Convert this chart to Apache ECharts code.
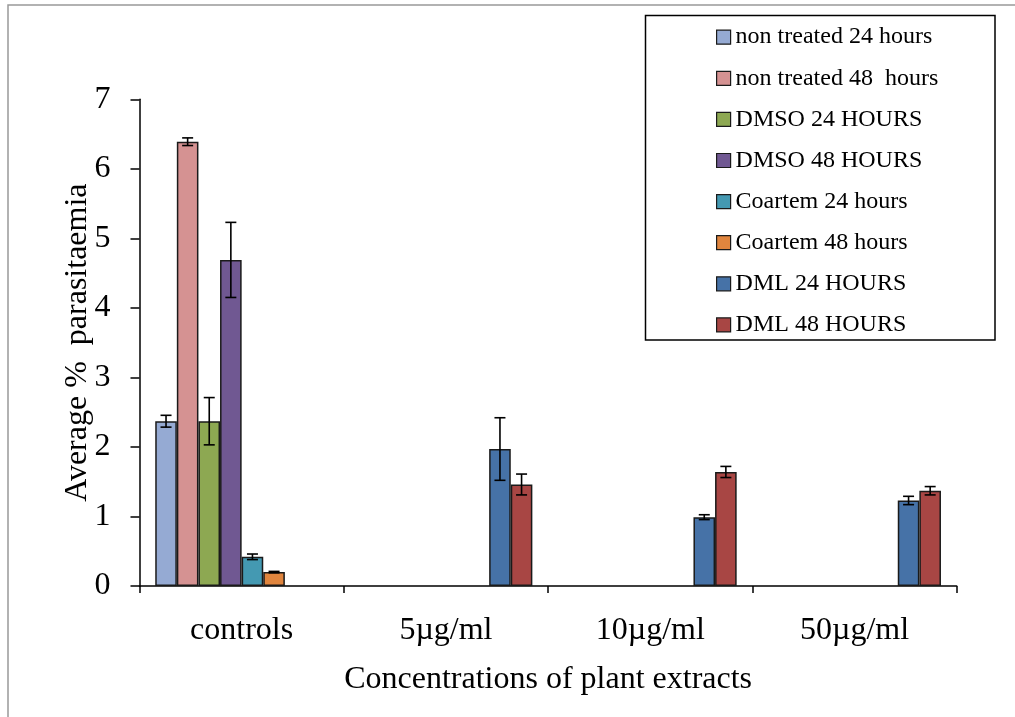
<!DOCTYPE html>
<html>
<head>
<meta charset="utf-8">
<script src="https://cdn.jsdelivr.net/npm/echarts@6/dist/echarts.min.js"></script>
<style>
  html, body { margin: 0; padding: 0; background: #fff; }
  #chart { width: 1015px; height: 717px; }
</style>
</head>
<body>
<div id="chart"></div>
<script>
// Concentration groups along the x axis
var categories = ['controls', '5µg/ml', '10µg/ml', '50µg/ml'];

// Mean parasitaemia (%) per group
var nonTreated24 = [2.37, null, null, null];
var nonTreated48 = [6.39, null, null, null];
var dmso24 = [2.37, null, null, null];
var dmso48 = [4.69, null, null, null];
var coartem24 = [0.42, null, null, null];
var coartem48 = [0.20, null, null, null];
var dml24 = [null, 1.97, 0.99, 1.23];
var dml48 = [null, 1.46, 1.64, 1.37];

// Error bar half-widths (same layout as the means)
var nonTreated24Err = [0.085, null, null, null];
var nonTreated48Err = [0.055, null, null, null];
var dmso24Err = [0.34, null, null, null];
var dmso48Err = [0.54, null, null, null];
var coartem24Err = [0.04, null, null, null];
var coartem48Err = [0.01, null, null, null];
var dml24Err = [null, 0.45, 0.035, 0.06];
var dml48Err = [null, 0.15, 0.08, 0.06];

// Y axis ticks
var yTicks = [0, 1, 2, 3, 4, 5, 6, 7];

var seriesNames = [
  'non treated 24 hours', 'non treated 48  hours',
  'DMSO 24 HOURS', 'DMSO 48 HOURS',
  'Coartem 24 hours', 'Coartem 48 hours',
  'DML 24 HOURS', 'DML 48 HOURS'
];
var seriesValues = [nonTreated24, nonTreated48, dmso24, dmso48, coartem24, coartem48, dml24, dml48];
var seriesErrors = [nonTreated24Err, nonTreated48Err, dmso24Err, dmso48Err, coartem24Err, coartem48Err, dml24Err, dml48Err];
var seriesColors = ['#95AAD3', '#D59292', '#8DA852', '#705892', '#4499B2', '#E0853E', '#4672A7', '#A84644'];

var FONT = '"Liberation Serif", "Times New Roman", serif';
var CAT_GAP = 0.154;
var N = seriesNames.length;

var series = [];
seriesNames.forEach(function (name, i) {
  series.push({
    name: name,
    type: 'bar',
    data: seriesValues[i],
    barGap: '0%',
    barCategoryGap: (CAT_GAP * 100) + '%',
    itemStyle: { color: seriesColors[i], borderColor: '#1a1a1a', borderWidth: 1.5 },
    z: 2
  });
});

// Error bars drawn over each bar, positioned at the bar's slot in the category
seriesNames.forEach(function (name, i) {
  var errData = [];
  seriesValues[i].forEach(function (v, c) {
    if (v != null && seriesErrors[i][c] != null) {
      errData.push([c, v, seriesErrors[i][c]]);
    }
  });
  series.push({
    type: 'custom',
    name: name + ' error',
    data: errData,
    z: 5,
    silent: true,
    renderItem: function (params, api) {
      var c = api.value(0), mean = api.value(1), err = api.value(2);
      var center = api.coord([c, mean]);
      var band = api.size([1, 0])[0];
      var groupW = band * (1 - CAT_GAP);
      var barW = groupW / N;
      var x = center[0] - groupW / 2 + (i + 0.5) * barW;
      var top = api.coord([c, mean + err])[1];
      var bot = api.coord([c, mean - err])[1];
      var cap = 5.5;
      var style = { stroke: '#000', lineWidth: 1.6, fill: null };
      return {
        type: 'group',
        children: [
          { type: 'line', shape: { x1: x, y1: top, x2: x, y2: bot }, style: style },
          { type: 'line', shape: { x1: x - cap, y1: top, x2: x + cap, y2: top }, style: style },
          { type: 'line', shape: { x1: x - cap, y1: bot, x2: x + cap, y2: bot }, style: style }
        ]
      };
    }
  });
});

var chart = echarts.init(document.getElementById('chart'), null, { renderer: 'canvas' });
chart.setOption({
  backgroundColor: '#fff',
  animation: false,
  textStyle: { fontFamily: FONT, color: '#000' },
  graphic: [
    {
      type: 'rect',
      shape: { x: 8, y: 5, width: 1100, height: 800 },
      style: { fill: null, stroke: '#999', lineWidth: 1.5 },
      silent: true
    },
    {
      type: 'rect',
      shape: { x: 645.5, y: 15.5, width: 349.5, height: 324.5 },
      style: { fill: '#fff', stroke: '#000', lineWidth: 1.5 },
      silent: true,
      z: 0
    }
  ],
  legend: {
    data: seriesNames,
    orient: 'vertical',
    left: 711,
    top: 20.2,
    itemWidth: 14,
    itemHeight: 14,
    itemGap: 17.1,
    icon: 'rect',
    itemStyle: { borderColor: '#1a1a1a', borderWidth: 1.2 },
    textStyle: { fontFamily: FONT, fontSize: 24, color: '#000', lineHeight: 24 },
    z: 10
  },
  grid: { left: 139.5, right: 58.3, top: 99.3, bottom: 131, containLabel: false },
  xAxis: {
    type: 'category',
    data: categories,
    axisLine: { lineStyle: { color: '#000', width: 1.5 } },
    axisTick: { show: true, inside: false, length: 7, lineStyle: { color: '#000', width: 1.5 } },
    axisLabel: { fontFamily: FONT, fontSize: 32, color: '#000', margin: 29 },
    name: 'Concentrations of plant extracts',
    nameLocation: 'middle',
    nameGap: 78,
    nameMoveOverlap: false,
    nameTextStyle: { fontFamily: FONT, fontSize: 32, color: '#000' }
  },
  yAxis: {
    type: 'value',
    min: yTicks[0],
    max: yTicks[yTicks.length - 1],
    interval: 1,
    splitLine: { show: false },
    axisLine: { show: true, lineStyle: { color: '#000', width: 1.5 } },
    axisTick: { show: true, inside: false, length: 9, lineStyle: { color: '#000', width: 1.5 } },
    axisLabel: { fontFamily: FONT, fontSize: 32, color: '#000', margin: 29 },
    name: 'Average %  parasitaemia',
    nameLocation: 'middle',
    nameRotate: 90,
    nameGap: 46,
    nameMoveOverlap: false,
    nameTextStyle: { fontFamily: FONT, fontSize: 32, color: '#000' }
  },
  series: series
});
</script>
</body>
</html>
